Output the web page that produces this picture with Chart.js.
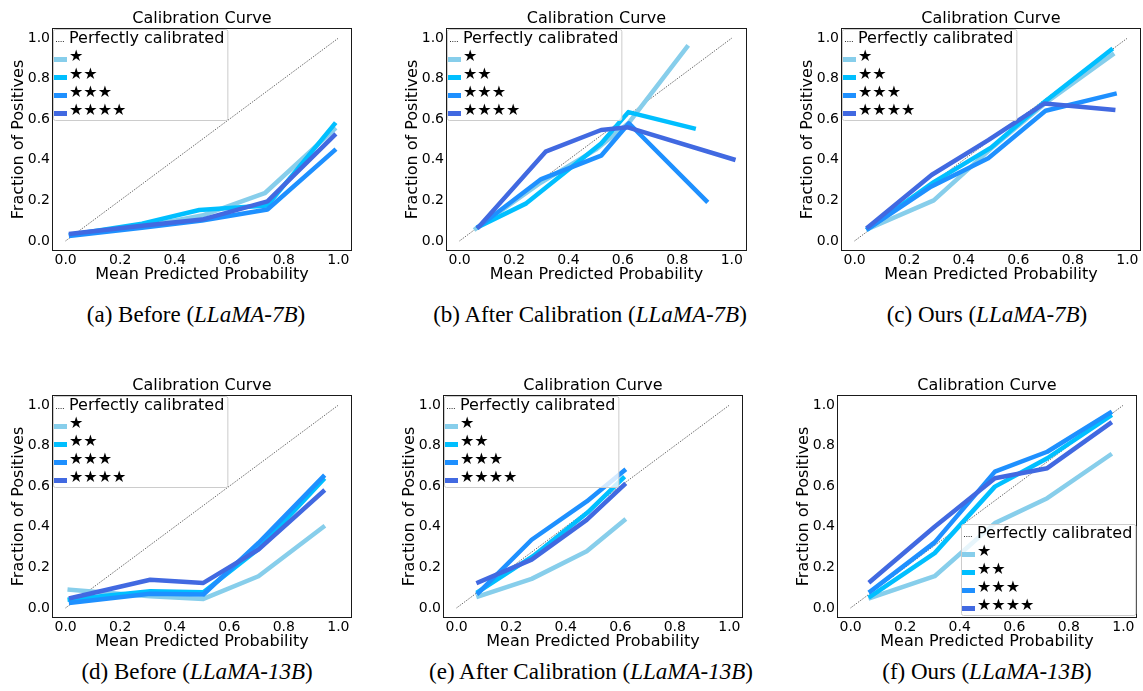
<!DOCTYPE html>
<html><head><meta charset="utf-8">
<script src="https://cdn.jsdelivr.net/npm/chart.js@4.4.1/dist/chart.umd.min.js"></script>
<style>
html,body{margin:0;padding:0;background:#fff;width:1143px;height:691px;overflow:hidden;position:relative}
canvas{position:absolute}
.cap{position:absolute;font-family:"Liberation Serif","Times New Roman",serif;font-size:23px;line-height:23px;white-space:nowrap;transform:translateX(-50%);color:#000}
</style></head><body>
<script>
// ---- data ----
const tickValues = [0, 0.2, 0.4, 0.6, 0.8, 1.0];
const tickLabels = ['0.0', '0.2', '0.4', '0.6', '0.8', '1.0'];
const diagonal = [[0, 0], [1, 1]];
const seriesLabels = ['★', '★★', '★★★', '★★★★'];
const seriesColors = ['#87CEEB', '#00BFFF', '#1E90FF', '#4169E1'];

// (a) Before (LLaMA-7B)
const a1 = [[0.02,0.03],[0.28,0.07],[0.50,0.125],[0.73,0.235],[0.985,0.55]];
const a2 = [[0.02,0.03],[0.28,0.085],[0.49,0.152],[0.74,0.175],[0.985,0.575]];
const a3 = [[0.02,0.025],[0.28,0.065],[0.50,0.10],[0.74,0.155],[0.985,0.445]];
const a4 = [[0.02,0.035],[0.28,0.075],[0.50,0.105],[0.74,0.195],[0.985,0.52]];
// (b) After Calibration (LLaMA-7B)
const b1 = [[0.06,0.06],[0.29,0.28],[0.50,0.45],[0.62,0.58],[0.835,0.955]];
const b2 = [[0.07,0.07],[0.245,0.185],[0.52,0.48],[0.62,0.635],[0.86,0.555]];
const b3 = [[0.07,0.07],[0.30,0.305],[0.52,0.42],[0.622,0.58],[0.906,0.198]];
const b4 = [[0.07,0.069],[0.316,0.44],[0.52,0.547],[0.618,0.56],[1.006,0.402]];
// (c) Ours (LLaMA-7B)
const c1 = [[0.05,0.06],[0.29,0.20],[0.50,0.455],[0.70,0.68],[0.945,0.918]];
const c2 = [[0.05,0.06],[0.29,0.29],[0.50,0.46],[0.70,0.69],[0.94,0.942]];
const c3 = [[0.05,0.06],[0.28,0.267],[0.49,0.407],[0.70,0.642],[0.953,0.725]];
const c4 = [[0.05,0.069],[0.282,0.325],[0.49,0.497],[0.696,0.678],[0.948,0.646]];
// (d) Before (LLaMA-13B)
const d1 = [[0.015,0.09],[0.31,0.057],[0.505,0.044],[0.707,0.156],[0.944,0.398]];
const d2 = [[0.015,0.041],[0.31,0.082],[0.505,0.077],[0.707,0.29],[0.944,0.631]];
const d3 = [[0.02,0.025],[0.31,0.07],[0.505,0.066],[0.707,0.32],[0.944,0.647]];
const d4 = [[0.02,0.049],[0.31,0.139],[0.505,0.123],[0.707,0.287],[0.944,0.574]];
// (e) After Calibration (LLaMA-13B)
const e1 = [[0.08,0.057],[0.275,0.143],[0.477,0.279],[0.614,0.431]];
const e2 = [[0.08,0.08],[0.28,0.255],[0.48,0.47],[0.61,0.64]];
const e3 = [[0.08,0.074],[0.275,0.336],[0.477,0.525],[0.614,0.677]];
const e4 = [[0.08,0.126],[0.275,0.238],[0.477,0.434],[0.614,0.607]];
// (f) Ours (LLaMA-13B)
const f1 = [[0.073,0.049],[0.308,0.156],[0.529,0.418],[0.721,0.541],[0.951,0.754]];
const f2 = [[0.073,0.057],[0.308,0.27],[0.529,0.598],[0.721,0.738],[0.951,0.946]];
const f3 = [[0.073,0.082],[0.308,0.323],[0.529,0.672],[0.721,0.77],[0.951,0.962]];
const f4 = [[0.073,0.131],[0.308,0.40],[0.529,0.639],[0.721,0.689],[0.951,0.91]];

// ---- layout / style ----
const FONT = "'DejaVu Sans', sans-serif";
const Y_W = 52, T_H = 28, X_H = 36, R_PAD = 4, BOX_H = 223;
const panels = [
  {series:[a1,a2,a3,a4], left:52,  top:28,  w:300, xMax:1.05,  legend:'ul', cap:['(a) Before (','LLaMA-7B',')'], cx:196, cy:302.5},
  {series:[b1,b2,b3,b4], left:446, top:28,  w:301, xMax:1.056, legend:'ul', cap:['(b) After Calibration (','LLaMA-7B',')'], cx:590, cy:302.5},
  {series:[c1,c2,c3,c4], left:841, top:28,  w:300, xMax:1.05,  legend:'ul', cap:['(c) Ours (','LLaMA-7B',')'], cx:987, cy:302.5},
  {series:[d1,d2,d3,d4], left:52,  top:395, w:300, xMax:1.05,  legend:'ul', cap:['(d) Before (','LLaMA-13B',')'], cx:197, cy:660},
  {series:[e1,e2,e3,e4], left:443, top:395, w:300, xMax:1.05,  legend:'ul', cap:['(e) After Calibration (','LLaMA-13B',')'], cx:591, cy:660},
  {series:[f1,f2,f3,f4], left:837, top:395, w:300, xMax:1.05,  legend:'lr', cap:['(f) Ours (','LLaMA-13B',')'], cx:987, cy:660}
];

const framePlugin = {
  id: 'frameLegend',
  afterDatasetsDraw(chart, args, opts) {
    const {ctx, chartArea: ca} = chart;
    ctx.save();
    ctx.setLineDash([]);
    ctx.strokeStyle = '#1a1a1a'; ctx.lineWidth = 1;
    ctx.strokeRect(Math.round(ca.left) + 0.5, Math.round(ca.top) + 0.5, Math.round(ca.width) - 1, Math.round(ca.height) - 1);
    ctx.font = "16px 'DejaVu Sans'";
    const ds = chart.data.datasets;
    const tw = Math.max(...ds.map(d => ctx.measureText(d.label).width));
    const w = 16 + tw + 3, h = 91;
    let x0, y0;
    if (opts.corner === 'lr') { x0 = Math.round(ca.right - 2 - w); y0 = Math.round(ca.bottom - 3 - h); }
    else { x0 = Math.round(ca.left) + 1; y0 = Math.round(ca.top) + 1; }
    ctx.beginPath();
    ctx.roundRect(x0 + 0.5, y0 + 0.5, w, h, 2);
    ctx.fillStyle = 'rgba(255,255,255,0.8)'; ctx.fill();
    ctx.strokeStyle = '#cccccc'; ctx.lineWidth = 1; ctx.stroke();
    ds.forEach((d, i) => {
      const ry = y0 + 12.5 + 18 * i;
      ctx.beginPath();
      if (d.isDiag) {
        ctx.setLineDash([1, 1.3]); ctx.lineWidth = 1; ctx.strokeStyle = d.borderColor;
        ctx.moveTo(x0 + 3, ry); ctx.lineTo(x0 + 12, ry);
      } else {
        ctx.setLineDash([]); ctx.lineWidth = 5; ctx.lineCap = 'butt'; ctx.strokeStyle = d.borderColor;
        ctx.moveTo(x0 + 1, ry); ctx.lineTo(x0 + 14, ry);
      }
      ctx.stroke();
      ctx.fillStyle = '#000'; ctx.textBaseline = 'alphabetic'; ctx.textAlign = 'left';
      ctx.fillText(d.label, x0 + 16, ry + 1.5);
    });
    ctx.restore();
  }
};

function makeChart(p) {
  const cv = document.createElement('canvas');
  const W = Y_W + p.w + R_PAD, H = T_H + BOX_H + X_H;
  cv.width = W; cv.height = H;
  cv.style.width = W + 'px'; cv.style.height = H + 'px';
  cv.style.left = (p.left - Y_W) + 'px'; cv.style.top = (p.top - T_H) + 'px';
  document.body.appendChild(cv);
  const datasets = [{
    label: 'Perfectly calibrated', isDiag: true,
    data: diagonal.map(([x, y]) => ({x, y})),
    borderColor: 'rgba(0,0,0,0.8)', borderWidth: 0.9, borderDash: [1, 1.3], order: 10
  }];
  p.series.forEach((s, i) => datasets.push({
    label: seriesLabels[i],
    data: s.map(([x, y]) => ({x, y})),
    borderColor: seriesColors[i], borderWidth: 4.5, order: 5 - i,
    borderCapStyle: 'square', borderJoinStyle: 'round'
  }));
  new Chart(cv, {
    type: 'line',
    data: {datasets},
    options: {
      responsive: false, animation: false, devicePixelRatio: 1,
      layout: {padding: {left: 0, right: R_PAD, top: 0, bottom: 0}},
      elements: {point: {radius: 0}, line: {tension: 0}},
      plugins: {
        legend: {display: false}, tooltip: {enabled: false},
        title: {display: true, fullSize: false, text: 'Calibration Curve', color: '#000',
                font: {family: FONT, size: 16, weight: 'normal', lineHeight: 1.2}, padding: {top: 8.8, bottom: 0}},
        frameLegend: {corner: p.legend}
      },
      scales: {
        x: {
          type: 'linear', min: -0.05, max: p.xMax,
          grid: {display: false, drawTicks: false}, border: {display: false},
          ticks: {color: '#000', font: {family: FONT, size: 14}, padding: 1, maxRotation: 0,
                  callback: (v, i) => tickLabels[i]},
          afterBuildTicks: s => { s.ticks = tickValues.map(v => ({value: v})); },
          afterFit: s => { s.height = X_H; },
          title: {display: true, text: 'Mean Predicted Probability', color: '#000',
                  font: {family: FONT, size: 16}, padding: {top: 0, bottom: 2.4}}
        },
        y: {
          type: 'linear', min: -0.05, max: 1.05,
          grid: {display: false, drawTicks: false}, border: {display: false},
          ticks: {color: '#000', font: {family: FONT, size: 14}, padding: 2,
                  callback: (v, i) => tickLabels[i]},
          afterBuildTicks: s => { s.ticks = tickValues.map(v => ({value: v})); },
          afterFit: s => { s.width = Y_W; },
          title: {display: true, text: 'Fraction of Positives', color: '#000',
                  font: {family: FONT, size: 16}, padding: {top: 9, bottom: 0}}
        }
      }
    },
    plugins: [framePlugin]
  });
  const cap = document.createElement('div');
  cap.className = 'cap';
  cap.style.left = p.cx + 'px'; cap.style.top = p.cy + 'px';
  cap.appendChild(document.createTextNode(p.cap[0]));
  const it = document.createElement('i'); it.textContent = p.cap[1];
  cap.appendChild(it);
  cap.appendChild(document.createTextNode(p.cap[2]));
  document.body.appendChild(cap);
}
panels.forEach(makeChart);
</script>
</body></html>
